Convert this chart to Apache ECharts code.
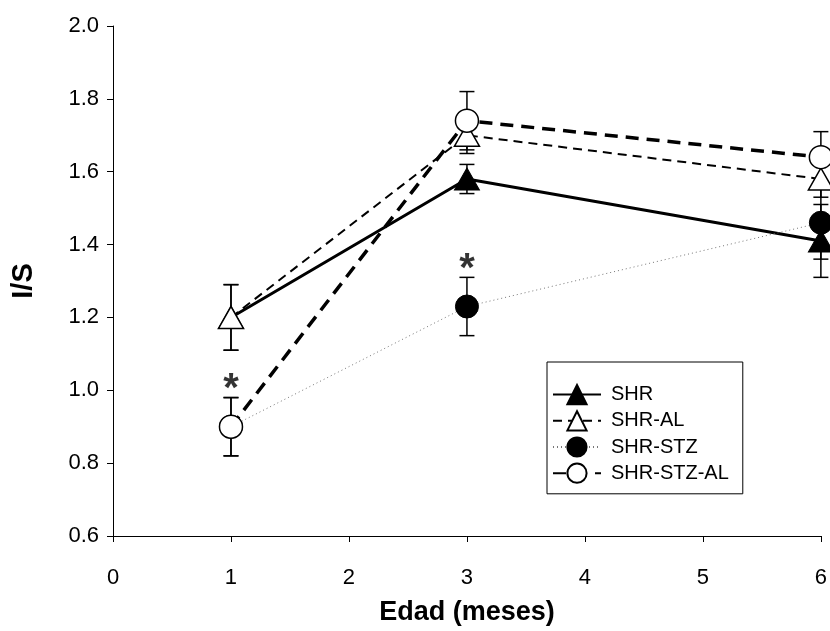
<!DOCTYPE html>
<html>
<head>
<meta charset="utf-8">
<script src="https://cdn.jsdelivr.net/npm/echarts@6/dist/echarts.min.js"></script>
<style>html,body{margin:0;padding:0;background:#fff}#c{width:830px;height:631px}</style>
</head>
<body>
<div id="c"></div>
<script>
// ---- data ----
const seriesNames = ['SHR', 'SHR-AL', 'SHR-STZ', 'SHR-STZ-AL'];
const ages = [1, 3, 6];
const shr = [1.20, 1.58, 1.41];
const shrErr = [0.09, 0.04, 0.10];
const shrAl = [1.20, 1.70, 1.58];
const shrAlErr = [0.09, 0.05, 0.05];
const shrStz = [0.90, 1.23, 1.46];
const shrStzErr = [0.08, 0.08, 0.10];
const shrStzAl = [0.90, 1.74, 1.64];
const shrStzAlErr = [0.08, 0.08, 0.07];
const asteriskX = [1, 3];
const asteriskY = [1.025, 1.355];
const xTicks = [0, 1, 2, 3, 4, 5, 6];
const yTicks = [0.6, 0.8, 1.0, 1.2, 1.4, 1.6, 1.8, 2.0];

const FONT = 'Arial, "Liberation Sans", sans-serif';
const pts = (vals) => ages.map((x, i) => [x, vals[i]]);
const errPts = (vals, errs) => ages.map((x, i) => [x, vals[i] - errs[i], vals[i] + errs[i]]);

function errRender(params, api) {
  const x = api.value(0), lo = api.value(1), hi = api.value(2);
  const t = api.coord([x, hi]);
  const b = api.coord([x, lo]);
  const hw = 7.5;
  const st = { stroke: '#000', lineWidth: 1.5 };
  return {
    type: 'group',
    children: [
      { type: 'line', shape: { x1: t[0], y1: t[1], x2: b[0], y2: b[1] }, style: st },
      { type: 'line', shape: { x1: t[0] - hw, y1: t[1], x2: t[0] + hw, y2: t[1] }, style: st },
      { type: 'line', shape: { x1: b[0] - hw, y1: b[1], x2: b[0] + hw, y2: b[1] }, style: st }
    ]
  };
}

function errSeries(vals, errs) {
  return {
    type: 'custom', renderItem: errRender, data: errPts(vals, errs),
    encode: { x: 0, y: [1, 2] }, z: 1, silent: true, clip: false
  };
}

const chart = echarts.init(document.getElementById('c'), null, { renderer: 'canvas' });
chart.setOption({
  animation: false,
  backgroundColor: '#fff',
  grid: { left: 113, right: 7, top: 26, bottom: 94, containLabel: false },
  xAxis: {
    type: 'value', min: xTicks[0], max: xTicks[xTicks.length - 1], interval: 1,
    name: 'Edad (meses)', nameLocation: 'middle', nameGap: 63,
    nameTextStyle: { fontFamily: FONT, fontWeight: 'bold', fontSize: 27, color: '#000' },
    axisLine: { lineStyle: { color: '#000', width: 1 } },
    axisTick: { show: true, length: 6, lineStyle: { color: '#000' } },
    axisLabel: { fontFamily: FONT, fontSize: 22, color: '#000', margin: 31 },
    splitLine: { show: false }
  },
  yAxis: {
    type: 'value', min: yTicks[0], max: yTicks[yTicks.length - 1], interval: 0.2,
    name: 'I/S', nameLocation: 'middle', nameGap: 75, nameRotate: 90,
    nameTextStyle: { fontFamily: FONT, fontWeight: 'bold', fontSize: 29, color: '#000' },
    axisLine: { show: true, lineStyle: { color: '#000', width: 1 } },
    axisTick: { show: true, length: 6, lineStyle: { color: '#000' } },
    axisLabel: { fontFamily: FONT, fontSize: 22, color: '#000', margin: 14, formatter: v => v.toFixed(1) },
    splitLine: { show: false }
  },
  legend: {
    data: seriesNames,
    orient: 'vertical', left: 547, top: 362,
    padding: [22, 14, 10, 5],
    itemGap: 5, itemWidth: 48, itemHeight: 24,
    borderColor: '#000', borderWidth: 1, backgroundColor: '#fff',
    textStyle: { fontFamily: FONT, fontSize: 20, color: '#000', padding: [0, 0, 0, 5] }
  },
  series: [
    errSeries(shr, shrErr),
    errSeries(shrAl, shrAlErr),
    errSeries(shrStz, shrStzErr),
    errSeries(shrStzAl, shrStzAlErr),
    {
      name: 'SHR', type: 'line', data: pts(shr), z: 3,
      symbol: 'triangle', symbolSize: [25, 22], showAllSymbol: true,
      lineStyle: { color: '#000', width: 3, type: 'solid' },
      itemStyle: { color: '#000', borderColor: '#000', borderWidth: 1 }
    },
    {
      name: 'SHR-AL', type: 'line', data: pts(shrAl), z: 4,
      symbol: 'triangle', symbolSize: [25, 22],
      lineStyle: { color: '#000', width: 2, type: [9, 6] },
      itemStyle: { color: '#fff', borderColor: '#000', borderWidth: 1.5 }
    },
    {
      name: 'SHR-STZ', type: 'line', data: pts(shrStz), z: 5,
      symbol: 'circle', symbolSize: 23,
      lineStyle: { color: '#777', width: 1, type: [1, 3] },
      itemStyle: { color: '#000', borderColor: '#000', borderWidth: 1 }
    },
    {
      name: 'SHR-STZ-AL', type: 'line', data: pts(shrStzAl), z: 6,
      symbol: 'circle', symbolSize: 23,
      lineStyle: { color: '#000', width: 3.5, type: [13, 8] },
      itemStyle: { color: '#fff', borderColor: '#000', borderWidth: 1.5 }
    },
    {
      name: 'sig', type: 'scatter', symbolSize: 0, z: 7, silent: true,
      data: asteriskX.map((x, i) => [x, asteriskY[i]]),
      label: {
        show: true, position: 'inside', formatter: '*', offset: [0, 9],
        fontFamily: FONT, fontWeight: 'bold', fontSize: 40, color: '#000'
      }
    }
  ]
});
</script>
</body>
</html>
